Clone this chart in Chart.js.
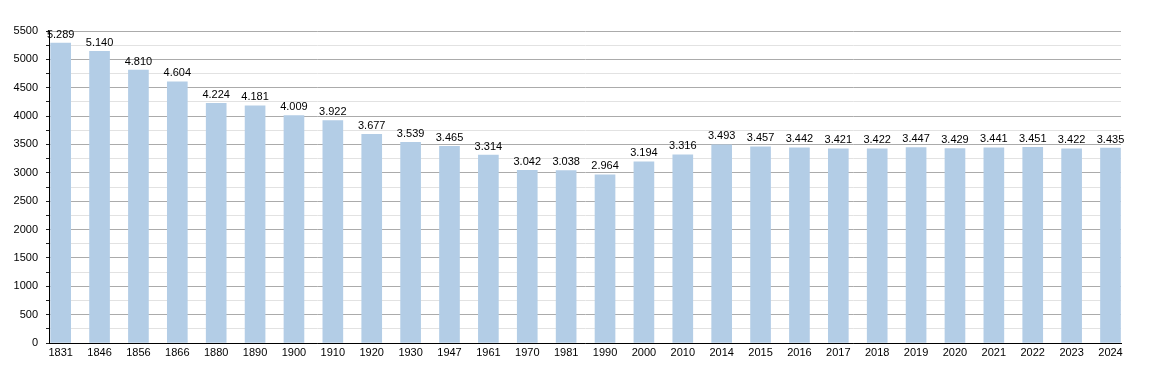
<!DOCTYPE html>
<html><head><meta charset="utf-8">
<script src="https://cdn.jsdelivr.net/npm/chart.js@4"></script>
<style>html,body{margin:0;padding:0;background:#fff}canvas{display:block}</style>
</head><body>
<canvas id="c" width="1150" height="373"></canvas>
<script>
const categories = ["1831","1846","1856","1866","1880","1890","1900","1910","1920","1930","1947","1961","1970","1981","1990","2000","2010","2014","2015","2016","2017","2018","2019","2020","2021","2022","2023","2024"];
const population = [5289,5140,4810,4604,4224,4181,4009,3922,3677,3539,3465,3314,3042,3038,2964,3194,3316,3493,3457,3442,3421,3422,3447,3429,3441,3451,3422,3435];
const yTicks = [0,500,1000,1500,2000,2500,3000,3500,4000,4500,5000,5500];

const FONT = "'Liberation Sans', Arial, sans-serif";
const fmt = v => String(v).replace(/\B(?=(\d{3})+(?!\d))/g, ".");

const labelPlugin = {
  id: 'vlabels',
  afterDatasetsDraw(chart) {
    const ctx = chart.ctx;
    const meta = chart.getDatasetMeta(0);
    ctx.save();
    ctx.font = "11px " + FONT;
    ctx.fillStyle = "#000";
    ctx.textAlign = "center";
    ctx.textBaseline = "bottom";
    meta.data.forEach((bar, i) => {
      ctx.fillText(fmt(population[i]), bar.x, bar.y - 3);
    });
    ctx.restore();
  }
};

new Chart(document.getElementById('c'), {
  type: 'bar',
  data: {
    datasets: [{
      data: population.map((v, i) => ({x: i, y: v})),
      backgroundColor: '#b3cde6',
      borderWidth: 0,
      barThickness: 20
    }]
  },
  plugins: [labelPlugin],
  options: {
    responsive: false,
    animation: false,
    events: [],
    layout: {padding: {left: 0, right: 29, top: 31, bottom: 0}},
    plugins: {legend: {display: false}, tooltip: {enabled: false}},
    scales: {
      x: {
        type: 'linear',
        offset: false,
        min: -0.30,
        max: 27.27,
        afterBuildTicks: s => { s.ticks = categories.map((_, i) => ({value: i})); },
        afterFit: s => { s.height = 30; },
        grid: {display: false, drawTicks: false, tickLength: 0},
        border: {display: true, color: '#000', width: 1},
        ticks: {
          autoSkip: false, maxRotation: 0, padding: 3,
          color: '#000', font: {family: FONT, size: 11},
          callback: v => categories[v]
        }
      },
      y: {
        min: 0, max: 5500,
        afterBuildTicks: s => {
          const t = [];
          for (let v = 0; v <= 5500; v += 250) t.push({value: v});
          s.ticks = t;
        },
        afterFit: s => { s.width = 49; },
        border: {display: true, color: '#000', width: 1},
        grid: {
          color: c => (c.tick && c.tick.value % 500 === 0) ? '#ababab' : '#e2e2e2',
          tickColor: '#222',
          tickLength: 3,
          drawTicks: true
        },
        ticks: {
          autoSkip: false,
          padding: 8,
          color: '#000', font: {family: FONT, size: 11},
          callback: v => yTicks.includes(v) ? String(v) : ''
        }
      }
    }
  }
});
</script>
</body></html>
